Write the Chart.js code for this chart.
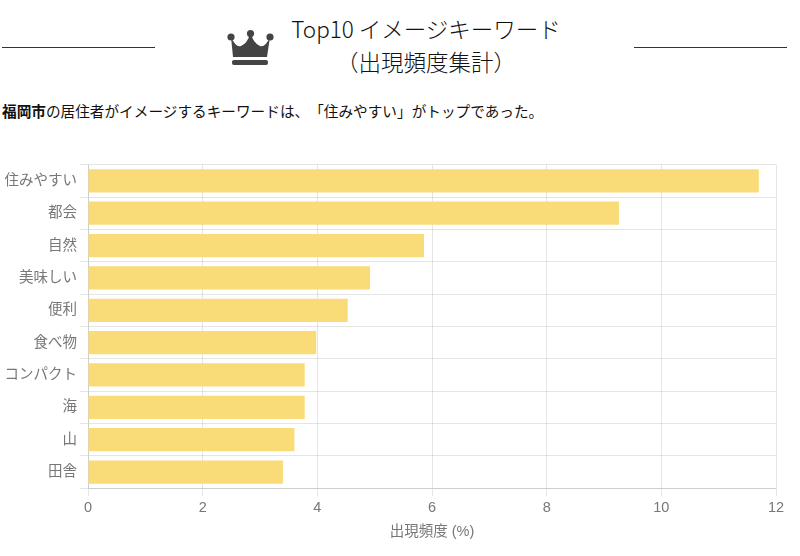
<!DOCTYPE html>
<html lang="ja">
<head>
<meta charset="utf-8">
<style>
    html, body { margin: 0; padding: 0; background: #fff; overflow: hidden; }
    body { width: 800px; height: 556px; position: relative; font-family: "Noto Sans CJK JP", sans-serif; color: #111; text-spacing-trim: space-all; }
    .rule { position: absolute; top: 47px; height: 1px; background: #333; }
    .crown { position: absolute; left: 227px; top: 30px; }
    .title { position: absolute; left: 246px; width: 360px; text-align: center; font-size: 22.5px; font-weight: 300; line-height: 30px; white-space: nowrap; }
    .lead { position: absolute; left: 2px; top: 100px; font-size: 14.65px; line-height: 22px; white-space: nowrap; }
    #wrap { position: absolute; left: 0; top: 153px; width: 800px; height: 392px; }
</style>
</head>
<body>
<div class="rule" style="left:2px;width:153px"></div>
<div class="rule" style="left:634px;width:153px"></div>
<svg class="crown" width="47" height="36" viewBox="0 0 47 36">
    <path fill="#444" d="M4 7 Q9 18 14 16 Q20 14 23.5 3 Q27 14 33 16 Q38 18 43 7 L40 27 L6 27 Z"/>
    <circle cx="4" cy="7" r="3.6" fill="#444"/>
    <circle cx="23.5" cy="3.6" r="3.6" fill="#444"/>
    <circle cx="43" cy="7" r="3.6" fill="#444"/>
    <rect x="5" y="30" width="36" height="5" rx="2" fill="#444"/>
</svg>
<div class="title" style="top:13px">Top10 イメージキーワード</div>
<div class="title" style="top:46px">（出現頻度集計）</div>
<div class="lead"><b>福岡市</b>の居住者がイメージするキーワードは、「住みやすい」がトップであった。</div>
<div id="wrap"><canvas id="keywordChart" width="800" height="392"></canvas></div>
<script src="https://cdn.jsdelivr.net/npm/chart.js@4"></script>
<script>
// Top10 keywords and their frequency (%)
const keywords = ['住みやすい', '都会', '自然', '美味しい', '便利', '食べ物', 'コンパクト', '海', '山', '田舎'];
const frequency = [11.7, 9.26, 5.86, 4.92, 4.53, 3.98, 3.78, 3.78, 3.6, 3.4];
const axisTitle = '出現頻度 (%)';

const tickFont = { family: '"Liberation Sans", "Noto Sans CJK JP", sans-serif', size: 14.5 };

const ctx = document.getElementById('keywordChart').getContext('2d');
const keywordChart = new Chart(ctx, {
    type: 'bar',
    data: {
        labels: keywords,
        datasets: [{
            data: frequency,
            backgroundColor: '#f9db78',
            borderWidth: 0
        }]
    },
    options: {
        indexAxis: 'y',
        responsive: false,
        animation: false,
        layout: { padding: { top: 6, right: 24, bottom: 0, left: 0 } },
        plugins: {
            legend: { display: false },
            tooltip: { enabled: false }
        },
        scales: {
            x: {
                min: 0,
                max: 12,
                ticks: { stepSize: 2, color: '#777', font: tickFont, maxRotation: 0 },
                title: { display: true, text: axisTitle, color: '#777', font: tickFont, padding: { top: 4, bottom: 4 } }
            },
            y: {
                ticks: { color: '#777', font: tickFont },
                afterFit: (scale) => { scale.width = 88; }
            }
        }
    }
});
</script>
</body>
</html>
